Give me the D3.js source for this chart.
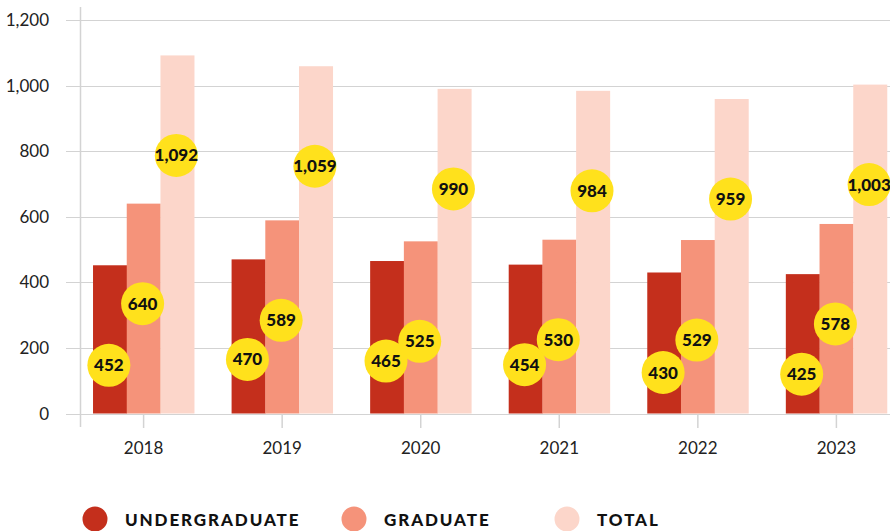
<!DOCTYPE html>
<html>
<head>
<meta charset="utf-8">
<script src="https://cdn.jsdelivr.net/npm/d3@7"></script>
<style>
  body { margin: 0; background: #fff; }
  svg { display: block; }
</style>
</head>
<body>
<div id="chart"></div>
<script>
// values
var years = ["2018", "2019", "2020", "2021", "2022", "2023"];
var undergrad = [452, 470, 465, 454, 430, 425];
var graduate = [640, 589, 525, 530, 529, 578];
var total = [1092, 1059, 990, 984, 959, 1003];
var yTicks = [0, 200, 400, 600, 800, 1000, 1200];
var seriesNames = ["UNDERGRADUATE", "GRADUATE", "TOTAL"];

var width = 890, height = 531;
var colors = ["#c42f1c", "#f5937a", "#fcd6ca"];

var svg = d3.select("#chart").append("svg")
    .attr("width", width)
    .attr("height", height);

var y = d3.scaleLinear().domain([0, 1200]).range([413.5, 20]);

var x = d3.scaleBand()
    .domain(years)
    .range([80, 900])
    .paddingInner(0.27)
    .paddingOuter(0.094);

var sub = d3.scaleBand()
    .domain(d3.range(3))
    .range([0, x.bandwidth()]);

// gridlines
svg.append("g")
    .selectAll("line")
    .data(yTicks)
    .join("line")
    .attr("x1", 66)
    .attr("x2", width)
    .attr("y1", d => Math.round(y(d)) + 0.5)
    .attr("y2", d => Math.round(y(d)) + 0.5)
    .attr("stroke", "#d3d3d3")
    .attr("stroke-width", 1.2);

// y labels
svg.append("g")
    .selectAll("text")
    .data(yTicks)
    .join("text")
    .attr("x", 49)
    .attr("y", d => y(d) + 6)
    .attr("text-anchor", "end")
    .attr("font-family", "Lato, 'Open Sans', sans-serif")
    .attr("font-size", 17)
    .attr("fill", "#222")
    .text(d => d3.format(",")(d));

// left axis line
svg.append("line")
    .attr("x1", 80.5).attr("x2", 80.5)
    .attr("y1", 7).attr("y2", 427)
    .attr("stroke", "#d3d3d3")
    .attr("stroke-width", 1.5);

var rows = years.map((yr, i) => ({year: yr, vals: [undergrad[i], graduate[i], total[i]]}));

var groups = svg.append("g")
    .selectAll("g")
    .data(rows)
    .join("g")
    .attr("transform", d => `translate(${x(d.year)},0)`);

groups.selectAll("rect")
    .data(d => d.vals)
    .join("rect")
    .attr("x", (d, i) => sub(i))
    .attr("width", sub.bandwidth() + 0.3)
    .attr("y", d => y(d))
    .attr("height", d => y(0) - y(d))
    .attr("fill", (d, i) => colors[i]);

// x ticks + labels
svg.append("g")
    .selectAll("line")
    .data(years)
    .join("line")
    .attr("x1", d => x(d) + x.bandwidth() / 2)
    .attr("x2", d => x(d) + x.bandwidth() / 2)
    .attr("y1", 414)
    .attr("y2", 428)
    .attr("stroke", "#d3d3d3")
    .attr("stroke-width", 1.5);

svg.append("g")
    .selectAll("text")
    .data(years)
    .join("text")
    .attr("x", d => x(d) + x.bandwidth() / 2)
    .attr("y", 454)
    .attr("text-anchor", "middle")
    .attr("font-family", "Lato, 'Open Sans', sans-serif")
    .attr("font-size", 17)
    .attr("fill", "#222")
    .text(d => d);

// value bubbles, about 100px under the bar top
var bubbles = groups.selectAll("g.bubble")
    .data(d => d.vals)
    .join("g")
    .attr("class", "bubble")
    .attr("transform", (d, i) => `translate(${sub(i) + sub.bandwidth() / 2 - 1},${y(d - 305)})`);

bubbles.append("circle")
    .attr("r", 21.5)
    .attr("fill", "#ffe11c");

bubbles.append("text")
    .attr("y", 6)
    .attr("text-anchor", "middle")
    .attr("font-family", "Lato, 'Open Sans', sans-serif")
    .attr("font-weight", 900)
    .attr("font-size", 17)
    .attr("fill", "#111")
    .text(d => d3.format(",")(d));

// legend
var legendX = [95, 354, 567];
var legend = svg.append("g")
    .selectAll("g")
    .data(seriesNames)
    .join("g")
    .attr("transform", (d, i) => `translate(${legendX[i]},519)`);

legend.append("circle")
    .attr("r", 12.5)
    .attr("fill", (d, i) => colors[i]);

legend.append("text")
    .attr("x", 30)
    .attr("y", 7)
    .attr("font-family", "Lato, 'Open Sans', sans-serif")
    .attr("font-weight", 900)
    .attr("font-size", 17)
    .attr("letter-spacing", 1.9)
    .attr("fill", "#111")
    .text(d => d);
</script>
</body>
</html>
